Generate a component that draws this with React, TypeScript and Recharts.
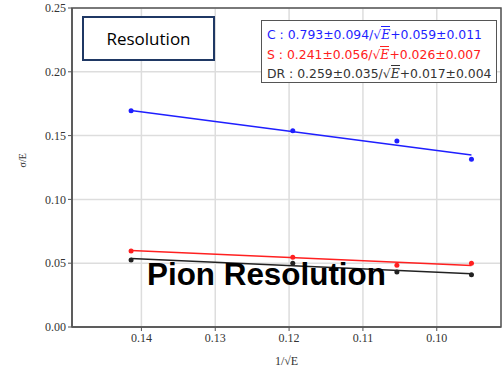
import {
  ComposedChart, Scatter, Line, XAxis, YAxis, CartesianGrid, ReferenceArea, Label
} from 'recharts'

// 1/sqrt(E) for the four beam energies
const xValues = [0.1414, 0.1195, 0.1054, 0.0953]
const cValues = [0.1695, 0.1538, 0.1458, 0.1314]
const sValues = [0.0596, 0.0546, 0.0483, 0.0499]
const drValues = [0.0525, 0.0499, 0.0431, 0.041]

// fit lines, read at the two end points
const fitX = [0.1414, 0.0953]
const cFit = [0.1697, 0.1348]
const sFit = [0.0599, 0.0482]
const drFit = [0.0536, 0.0417]

const xTicks = [0.1, 0.11, 0.12, 0.13, 0.14]
const yTicks = [0, 0.05, 0.1, 0.15, 0.2, 0.25]

const legendRows = [
  { name: 'C', a: '0.793±0.094', b: '0.059±0.011', color: '#1f1fff' },
  { name: 'S', a: '0.241±0.056', b: '0.026±0.007', color: '#ff2020' },
  { name: 'DR', a: '0.259±0.035', b: '0.017±0.004', color: '#333' },
]

const points = (ys: number[]) => xValues.map((x, i) => ({ x, y: ys[i] }))
const fit = (ys: number[]) => fitX.map((x, i) => ({ x, y: ys[i] }))

const X_DOMAIN: [number, number] = [0.0913, 0.1494]
const tickStyle = { fill: '#333', fontSize: 12, fontFamily: 'Liberation Serif, serif' }

function SqrtE() {
  return (
    <span>
      √<span style={{ borderTop: '1px solid currentColor', fontFamily: 'DejaVu Serif, serif', fontStyle: 'italic' }}>E</span>
    </span>
  )
}

export default function App() {
  return (
    <div style={{ position: 'fixed', left: 0, top: 0, width: 502, height: 368, background: '#fff' }}>
      <ComposedChart width={502} height={368} margin={{ top: 8, right: 1, bottom: 0, left: 0 }}>
        <CartesianGrid stroke="#ddd" strokeWidth={1.5} />
        <XAxis
          type="number" dataKey="x" domain={X_DOMAIN} reversed allowDataOverflow
          ticks={xTicks} tickFormatter={(v: number) => v.toFixed(2)}
          tick={tickStyle} tickSize={4} height={41}
          axisLine={{ stroke: '#555', strokeWidth: 1.5 }} tickLine={{ stroke: '#555' }}
        >
          <Label position="insideBottom" offset={3} style={{ fontSize: 12, fontFamily: 'Liberation Serif, serif', fill: '#333' }} value="1/√E" />
        </XAxis>
        <YAxis
          type="number" dataKey="y" domain={[0, 0.25]} ticks={yTicks}
          tickFormatter={(v: number) => v.toFixed(2)}
          tick={tickStyle} tickSize={4} width={72}
          axisLine={{ stroke: '#555', strokeWidth: 1.5 }} tickLine={{ stroke: '#555' }}
        >
          <Label angle={-90} position="insideLeft" offset={22} style={{ fontSize: 10, fontFamily: 'Liberation Serif, serif', fill: '#333' }} value="σ/E" />
        </YAxis>
        <ReferenceArea x1={X_DOMAIN[0]} x2={X_DOMAIN[1]} y1={0} y2={0.25} fill="none" stroke="#555" strokeWidth={1.5} ifOverflow="visible" />
        <Line data={fit(cFit)} dataKey="y" stroke="#1f1fff" strokeWidth={1.5} dot={false} isAnimationActive={false} />
        <Line data={fit(sFit)} dataKey="y" stroke="#ff2020" strokeWidth={1.5} dot={false} isAnimationActive={false} />
        <Line data={fit(drFit)} dataKey="y" stroke="#222" strokeWidth={1.5} dot={false} isAnimationActive={false} />
        <Scatter data={points(cValues)} fill="#1f1fff" shape={(p: any) => <circle cx={p.cx} cy={p.cy} r={2.5} fill="#1f1fff" />} isAnimationActive={false} />
        <Scatter data={points(sValues)} fill="#ff2020" shape={(p: any) => <circle cx={p.cx} cy={p.cy} r={2.5} fill="#ff2020" />} isAnimationActive={false} />
        <Scatter data={points(drValues)} fill="#222" shape={(p: any) => <circle cx={p.cx} cy={p.cy} r={2.5} fill="#222" />} isAnimationActive={false} />
      </ComposedChart>

      <div style={{
        position: 'absolute', left: 82, top: 16, width: 129, height: 41,
        border: '2px solid #1f3864', background: '#fff',
        display: 'flex', alignItems: 'center', justifyContent: 'center',
        fontFamily: 'Open Sans, sans-serif', fontSize: 17, color: '#000',
      }}>Resolution</div>

      <div style={{
        position: 'absolute', left: 261, top: 20, width: 236, height: 63,
        border: '1.5px solid #555', background: '#fff', padding: '4px 0 0 5px', boxSizing: 'border-box',
        fontFamily: 'DejaVu Sans, sans-serif', fontSize: 12.4, lineHeight: '19.5px', whiteSpace: 'nowrap',
      }}>
        {legendRows.map((r) => (
          <div key={r.name} style={{ color: r.color }}>
            {r.name} : {r.a}/<SqrtE />+{r.b}
          </div>
        ))}
      </div>

      <div style={{
        position: 'absolute', left: 147, top: 257, fontFamily: 'Liberation Sans, Arial, sans-serif',
        fontWeight: 'bold', fontSize: 31.4, color: '#000', lineHeight: '36px', whiteSpace: 'nowrap',
      }}>Pion Resolution</div>
    </div>
  )
}
